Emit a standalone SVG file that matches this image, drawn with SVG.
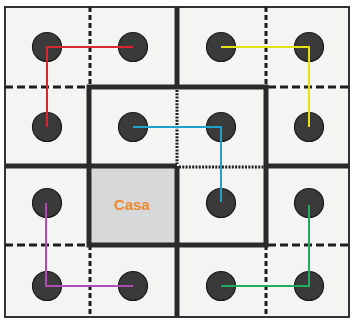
<svg xmlns="http://www.w3.org/2000/svg" width="352" height="321" viewBox="0 0 352 321">
<style>
.thick{stroke:#2a2a2a;stroke-width:5;fill:none}
.dash{stroke:#1e1e1e;stroke-width:3;fill:none}
.dashv{stroke-dasharray:5 3}
.dashh{stroke-dasharray:8 4}
.dot{stroke:#1e1e1e;stroke-width:3;stroke-dasharray:2 1.3;fill:none}
.node circle{fill:#3a3a3a;stroke:#1a1a1a;stroke-width:1.2}
.conn path{fill:none;stroke-width:2}
</style>
<rect x="0" y="0" width="352" height="321" fill="#ffffff"/>
<rect x="5" y="7" width="344" height="310" fill="#f4f4f2" stroke="#333" stroke-width="2"/>
<g id="grid">
<rect x="91" y="168" width="85" height="75" fill="#d6d8da"/>
<path class="dash dashv" d="M90 7V87M266 7V87M90 245V317M266 245V317"/>
<path class="dash dashh" d="M5 87H88M268 87H349M5 245H88M268 245H349"/>
<path class="dot" d="M177 90V164M179 167H264"/>
<path class="thick" d="M177 7V87M177 166V317M5 166H89M266 166H349"/>
<rect class="thick" x="89" y="87" width="177" height="158"/>
<path class="thick" d="M89 166H177"/>
</g>
<g id="casa">
<text x="132" y="210" font-family="Liberation Sans, Arial, sans-serif" font-weight="bold" font-size="15" fill="#f08a2e" text-anchor="middle">Casa</text>
</g>
<g class="node" id="n1"><circle cx="47" cy="47" r="14.5"/></g>
<g class="node" id="n2"><circle cx="133" cy="47" r="14.5"/></g>
<g class="node" id="n3"><circle cx="221" cy="47" r="14.5"/></g>
<g class="node" id="n4"><circle cx="309" cy="47" r="14.5"/></g>
<g class="node" id="n5"><circle cx="47" cy="127" r="14.5"/></g>
<g class="node" id="n6"><circle cx="133" cy="127" r="14.5"/></g>
<g class="node" id="n7"><circle cx="221" cy="127" r="14.5"/></g>
<g class="node" id="n8"><circle cx="309" cy="127" r="14.5"/></g>
<g class="node" id="n9"><circle cx="47" cy="203" r="14.5"/></g>
<g class="node" id="n10"><circle cx="221" cy="203" r="14.5"/></g>
<g class="node" id="n11"><circle cx="309" cy="203" r="14.5"/></g>
<g class="node" id="n12"><circle cx="47" cy="286" r="14.5"/></g>
<g class="node" id="n13"><circle cx="133" cy="286" r="14.5"/></g>
<g class="node" id="n14"><circle cx="221" cy="286" r="14.5"/></g>
<g class="node" id="n15"><circle cx="309" cy="286" r="14.5"/></g>
<g class="conn" id="connectors">
<path d="M47 127V47H133" stroke="#d8262e"/>
<path d="M221 47H309V127" stroke="#e6e01a"/>
<path d="M133 127H221V202" stroke="#22a0cc"/>
<path d="M46 203V286H133" stroke="#b04cb4"/>
<path d="M221 286H309V205" stroke="#1fac5e"/>
</g>
</svg>
